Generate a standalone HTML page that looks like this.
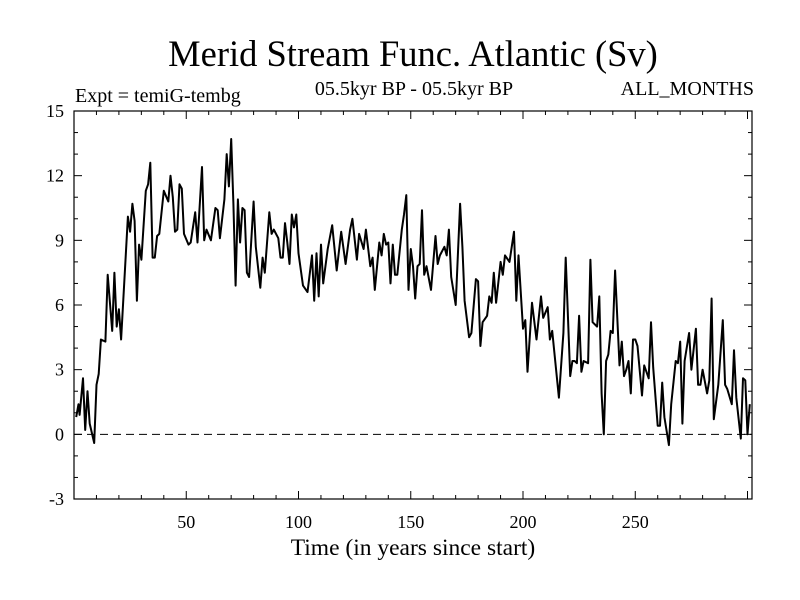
<!DOCTYPE html>
<html><head><meta charset="utf-8">
<style>
html,body{margin:0;padding:0;background:#fff;}
svg{display:block;font-family:"Liberation Serif",serif;}
</style></head>
<body>
<svg id="chart" width="800" height="600" viewBox="0 0 800 600">
<rect x="0" y="0" width="800" height="600" fill="#fff"/>
<text x="413" y="66" font-size="36.5" text-anchor="middle">Merid Stream Func. Atlantic (Sv)</text>
<text x="75" y="102" font-size="20">Expt = temiG-tembg</text>
<text x="414" y="95" font-size="20" text-anchor="middle">05.5kyr BP - 05.5kyr BP</text>
<text x="754" y="95" font-size="20" text-anchor="end">ALL_MONTHS</text>
<text x="413" y="555" font-size="23.5" text-anchor="middle">Time (in years since start)</text>
<g id="axes"></g>
<g id="series"></g>
</svg>
<script>
const years = [1,2,2.5,4,5,6,7,9,10,11,12,14,15,17,18,19,20,21,24,25,26,27,28,29,30,32,33,34,35,36,37,38,40,42,43,44,45,46,47,48,49,51,52,54,55,57,58,59,61,63,64,65,67,68,69,70,71,72,73,74,75,76,77,78,80,81,83,84,85,87,88,89,91,92,93,94,95,96,97,98,99,100,102,104,106,107,108,109,110,111,113,115,117,119,121,123,124,126,127,129,130,132,133,134,136,137,138,139,140,141,142,143,144,146,147,148,149,150,151,152,153,154,155,156,157,159,161,162,163,165,166,167,168,170,172,173,174,176,177,179,180,181,182,184,185,186,187,188,190,191,192,194,196,197,198,200,201,202,204,206,208,209,211,212,213,216,218,219,221,222,223,224,225,226,227,229,230,231,233,234,235,236,237,238,239,240,241,243,244,245,246,247,248,249,250,251,253,254,256,257,258,260,261,262,263,265,266,268,269,270,271,272,274,275,277,278,279,280,282,283,284,285,287,289,290,291,293,294,295,297,298,299,300,301];
const values = [0.8,1.4,0.9,2.6,0.2,2.0,0.5,-0.4,2.3,2.8,4.4,4.3,7.4,4.8,7.5,5.0,5.8,4.4,10.1,9.4,10.7,9.9,6.2,8.8,8.1,11.3,11.6,12.6,8.2,8.2,9.2,9.3,11.3,10.8,12.0,11.0,9.4,9.5,11.6,11.4,9.3,8.8,8.9,10.3,8.9,12.4,9.0,9.5,9.0,10.5,10.4,9.1,10.9,13.0,11.5,13.7,10.7,6.9,10.9,8.9,10.5,10.4,7.5,7.3,10.8,8.7,6.8,8.2,7.5,10.3,9.3,9.5,9.1,8.2,8.2,9.8,8.9,7.9,10.2,9.6,10.2,8.4,6.9,6.6,8.3,6.2,8.4,6.4,8.8,7.0,8.6,9.7,7.6,9.4,7.9,9.5,10.0,8.1,9.3,8.6,9.5,7.8,8.2,6.7,8.9,8.3,9.3,8.8,8.9,7.0,8.8,7.4,7.4,9.5,10.2,11.1,6.7,8.6,7.8,6.3,7.8,7.9,10.4,7.4,7.8,6.7,9.2,7.9,8.3,8.7,8.3,9.5,7.3,6.0,10.7,8.7,6.2,4.5,4.7,7.2,7.1,4.1,5.2,5.5,6.4,6.1,7.5,6.1,8.0,7.4,8.3,8.0,9.4,6.2,8.3,4.9,5.3,2.9,6.1,4.4,6.4,5.4,5.9,4.4,4.8,1.7,4.7,8.2,2.7,3.4,3.4,3.3,5.5,2.9,3.4,3.3,8.1,5.2,5.0,6.4,1.9,0.0,3.4,3.7,4.8,4.7,7.6,3.2,4.3,2.7,3.0,3.4,1.9,4.4,4.4,4.1,1.8,3.2,2.6,5.2,3.1,0.4,0.4,2.4,0.8,-0.5,1.4,3.4,3.3,4.3,0.5,3.4,4.7,3.0,4.9,2.3,2.3,3.0,1.9,2.5,6.3,0.7,2.3,5.3,2.3,2.1,1.4,3.9,1.7,-0.2,2.6,2.5,0.0,1.4];
const yTickLabels = ["-3","0","3","6","9","12","15"];
const yTickValues = [-3,0,3,6,9,12,15];
const xTickValues = [50,100,150,200,250];
const xTickLabels = ["50","100","150","200","250"];

const L=74,R=752,T=111,B=499;
const X0=0,X1=302,Y0=-3,Y1=15;
const sx=v=>L+(v-X0)/(X1-X0)*(R-L);
const sy=v=>B-(v-Y0)/(Y1-Y0)*(B-T);
const NS="http://www.w3.org/2000/svg";
const axes=document.getElementById('axes');
function mk(tag,attrs,parent){const e=document.createElementNS(NS,tag);for(const k in attrs)e.setAttribute(k,attrs[k]);parent.appendChild(e);return e;}

const frame=mk('rect',{x:L,y:T,width:R-L,height:B-T,fill:'none',stroke:'#000','stroke-width':1.2},axes);



const zero=mk('line',{x1:L,x2:R,y1:sy(0),y2:sy(0),stroke:'#000','stroke-width':1,'stroke-dasharray':'8,5'},axes);



for(let v=10;v<X1;v+=10){
  const len=(v%50===0)?8:4;
  const x=sx(v);
  const t1=mk('line',{x1:x,x2:x,y1:B,y2:B-len,stroke:'#000','stroke-width':1},axes);
  
  
  const t2=mk('line',{x1:x,x2:x,y1:T,y2:T+len,stroke:'#000','stroke-width':1},axes);
  
  
}
xTickValues.forEach((v,i)=>{
  const t=mk('text',{x:sx(v),y:528,'font-size':18,'text-anchor':'middle'},axes);
  t.textContent=xTickLabels[i];
  
  
});
for(let v=Y0+1;v<Y1;v++){
  const len=(v%3===0)?8:4;
  const y=sy(v);
  const t1=mk('line',{x1:L,x2:L+len,y1:y,y2:y,stroke:'#000','stroke-width':1},axes);
  
  
  const t2=mk('line',{x1:R,x2:R-len,y1:y,y2:y,stroke:'#000','stroke-width':1},axes);
  
  
}
yTickValues.forEach((v,i)=>{
  const t=mk('text',{x:64,y:sy(v)+6,'font-size':18,'text-anchor':'end'},axes);
  t.textContent=yTickLabels[i];
  
  
});

const series=document.getElementById('series');
let d='';
years.forEach((yr,i)=>{d+=(i?'L':'M')+sx(yr).toFixed(1)+','+sy(values[i]).toFixed(1);});
const path=mk('path',{d:d,fill:'none',stroke:'#000','stroke-width':2,'stroke-linejoin':'round'},series);


</script>
</body></html>
